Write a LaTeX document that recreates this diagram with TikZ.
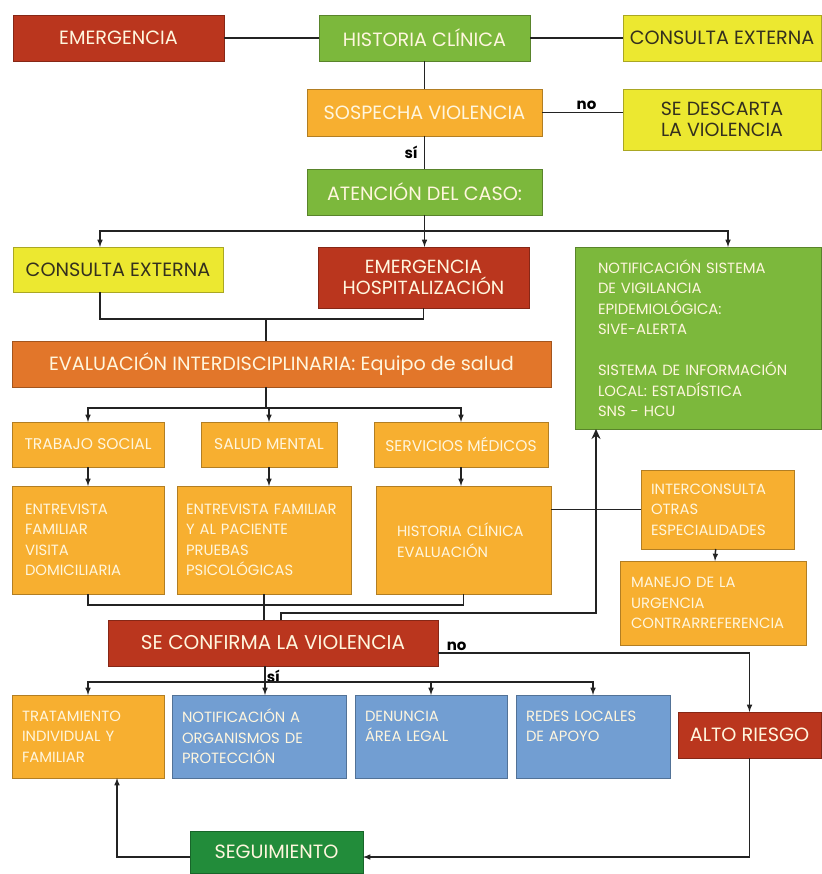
\documentclass[tikz,border=0pt]{standalone}
\usepackage{fontspec}
\setmainfont{Poppins}
\usetikzlibrary{arrows}
\usetikzlibrary{arrows.meta}
\usetikzlibrary{shadows}

\definecolor{rojo}{RGB}{186,54,30}
\definecolor{verde}{RGB}{124,184,60}
\definecolor{verdeosc}{RGB}{34,140,58}
\definecolor{naranja}{RGB}{247,175,48}
\definecolor{naranjaosc}{RGB}{226,118,42}
\definecolor{amarillo}{RGB}{236,232,48}
\definecolor{azul}{RGB}{114,158,210}
\definecolor{claro}{RGB}{255,246,222}
\definecolor{oscuro}{RGB}{52,48,30}
\definecolor{linea}{RGB}{35,35,35}

\newcommand{\fhuge}{\fontsize{20}{24}\selectfont}
\newcommand{\fbig}{\fontsize{19.2}{22}\selectfont}
\newcommand{\fmed}{\fontsize{15.5}{18}\selectfont}
\newcommand{\fsmall}{\fontsize{14.8}{20.5}\selectfont}

\begin{document}
\begin{tikzpicture}[x=1pt,y=-1pt,
	box/.style={draw=#1!72!black,fill=#1,line width=.6pt,anchor=north west,
		outer sep=0pt,inner sep=2pt,
		drop shadow={shadow xshift=1.2pt,shadow yshift=-1.2pt,opacity=.3}},
	sz/.style 2 args={minimum width=#1pt,minimum height=#2pt},
	list/.style 2 args={text width=#1pt,inner xsep=#2pt,align=left,font=\fsmall},
	redbox/.style={box=rojo,text=claro,font=\fbig},
	greenbox/.style={box=verde,text=claro,font=\fbig},
	dgreenbox/.style={box=verdeosc,text=claro,font=\fbig},
	orangebox/.style={box=naranja,text=claro,font=\fbig},
	evalbox/.style={box=naranjaosc,text=claro,font=\fbig},
	yellowbox/.style={box=amarillo,text=oscuro,font=\fbig},
	bluebox/.style={box=azul,text=claro,font=\fbig},
	conn/.style={draw=linea,line width=1.5pt},
	lbl/.style={font=\fontsize{15}{18}\selectfont\bfseries,text=black,inner sep=2pt}
]
	\fill[white] (0,0) rectangle (821,874);
	\useasboundingbox (0,0) rectangle (821,874);

	% first row
	\node[redbox,sz={211}{46}] (emerg) at (13,15) {EMERGENCIA};
	\node[greenbox,sz={211}{46}] (histcli) at (319,15) {HISTORIA CLÍNICA};
	\node[yellowbox,sz={198}{46}] (extern) at (623,15) {CONSULTA EXTERNA};

	\node[orangebox,sz={235}{47}] (sospecha) at (307,89) {SOSPECHA VIOLENCIA};
	\node[yellowbox,sz={198}{61},align=center,font=\fontsize{19}{21}\selectfont] (descarta) at (623,89) {SE DESCARTA\\LA VIOLENCIA};
	\node[greenbox,sz={235}{46}] (atencion) at (307,169) {ATENCIÓN DEL CASO:};

	% attention of the case
	\node[yellowbox,sz={210}{45}] (extern2) at (13,247) {CONSULTA EXTERNA};
	\node[redbox,sz={211}{61},align=center,font=\fontsize{19}{20.5}\selectfont] (hospital) at (318,247) {EMERGENCIA\\HOSPITALIZACIÓN};
	\node[greenbox,sz={246}{182},list={200}{23}] (vigila) at (575,247) {NOTIFICACIÓN SISTEMA\\DE VIGILANCIA\\EPIDEMIOLÓGICA:\\SIVE-ALERTA\\[20.5pt]SISTEMA DE INFORMACIÓN\\LOCAL: ESTADÍSTICA\\SNS - HCU};

	\node[evalbox,sz={539}{46}] (evalua) at (12,341) {EVALUACIÓN INTERDISCIPLINARIA: Equipo de salud};

	\node[orangebox,sz={152}{45},font=\fmed] (social) at (12,422) {TRABAJO SOCIAL};
	\node[orangebox,sz={136}{45},font=\fmed] (mental) at (201,422) {SALUD MENTAL};
	\node[orangebox,sz={174}{45},font=\fmed] (medicos) at (374,422) {SERVICIOS MÉDICOS};

	\node[orangebox,sz={152}{108},list={126}{13}] (visita) at (12,486) {ENTREVISTA\\FAMILIAR\\VISITA\\DOMICILIARIA};
	\node[orangebox,sz={174}{108},list={156}{9}] (pruebas) at (177,486) {ENTREVISTA FAMILIAR\\Y AL PACIENTE\\PRUEBAS\\PSICOLÓGICAS};
	\node[orangebox,sz={175}{108},list={133}{21}] (hcevalua) at (376,486) {HISTORIA CLÍNICA\\EVALUACIÓN};
	\node[orangebox,sz={153}{79},list={133}{10}] (interc) at (641,470) {INTERCONSULTA\\OTRAS\\ESPECIALIDADES};
	\node[orangebox,sz={186}{84},list={164}{11}] (manejo) at (620,561) {MANEJO DE LA\\URGENCIA\\CONTRARREFERENCIA};

	\node[redbox,sz={330}{46},font=\fhuge] (confirma) at (108,620) {SE CONFIRMA LA VIOLENCIA};

	% actions
	\node[orangebox,sz={152}{83},list={132}{10}] (tratam) at (12,695) {TRATAMIENTO\\INDIVIDUAL Y\\FAMILIAR};
	\node[bluebox,sz={174}{83},list={154}{10}] (organismos) at (172,695) {NOTIFICACIÓN A\\ORGANISMOS DE\\PROTECCIÓN};
	\node[bluebox,sz={152}{83},list={132}{10}] (denuncia) at (355,695) {DENUNCIA\\ÁREA LEGAL\\\mbox{}};
	\node[bluebox,sz={154}{83},list={134}{10}] (redes) at (516,695) {REDES LOCALES\\DE APOYO\\\mbox{}};
	\node[redbox,sz={143}{46}] (riesgo) at (678,712) {ALTO RIESGO};
	\node[dgreenbox,sz={173}{42}] (seguim) at (190,831) {SEGUIMIENTO};

	\coordinate (cruce1) at (266,319);
	\coordinate (bus2) at (266,408);
	\coordinate (cruce2) at (264,605);
	\coordinate (cruce3) at (265,682);

	%connectors
	\draw[conn] (emerg) -- (histcli);
	\draw[conn] (histcli) -- (extern);
	\draw[conn] (histcli) -- (sospecha);
	\draw[conn] (sospecha.east) -- node[lbl,above,pos=.55] (no1) {no} (sospecha.east -| descarta.west);
	\draw[conn] (sospecha) -- node[lbl,left,xshift=-4pt] (si1) {sí} (atencion);

	\draw[conn] (atencion.south) -- ++(0,16) coordinate (bus1);
	\draw[conn,-latex] (bus1) -| ([xshift=-18pt]extern2.north);
	\draw[conn,-latex] (bus1) -- (bus1 |- hospital.north);
	\draw[conn,-latex] (bus1) -| ([xshift=30pt]vigila.north);

	\draw[conn] ([xshift=-18pt]extern2.south) |- (cruce1);
	\draw[conn] (hospital.south) |- (cruce1);
	\draw[conn] (cruce1) -- (cruce1 |- evalua.north);

	\draw[conn] (bus2 |- evalua.south) -- (bus2);
	\draw[conn,-latex] (bus2) -| (social.north);
	\draw[conn,-latex] (bus2) -| (mental.north);
	\draw[conn,-latex] (bus2) -| (medicos.north);

	\draw[conn,-latex] (social) -- (visita);
	\draw[conn,-latex] (mental.south) -- (mental.south |- pruebas.north);
	\draw[conn,-latex] (medicos.south) -- (medicos.south |- hcevalua.north);
	\draw[conn] (interc.west) -- (interc.west -| hcevalua.east);
	\draw[conn,-latex] (interc) -- (manejo);

	\draw[conn] (visita.south) |- (cruce2);
	\draw[conn] (hcevalua.south) |- (cruce2);
	\draw[conn] (pruebas.south) -- (pruebas.south |- confirma.north);

	\draw[conn,-{Stealth[length=10pt,width=9pt]}] ([xshift=8pt]confirma.north) -- ++(0,-7) -| ([xshift=21pt]vigila.south west);
	\draw[conn,-latex] ([yshift=-10pt]confirma.east) -| node[lbl,above right,pos=0,xshift=6pt] (no2) {no} (riesgo.north);

	\draw[conn] (cruce3 |- confirma.south) -- node[lbl,right,pos=.65,inner sep=1pt] (si2) {sí} (cruce3);
	\draw[conn,-latex] (cruce3) -| (tratam.north);
	\draw[conn,-latex] (cruce3) -- (cruce3 |- organismos.north);
	\draw[conn,-latex] (cruce3) -| (denuncia.north);
	\draw[conn,-latex] (cruce3) -| (redes.north);

	\draw[conn,-latex] (riesgo.south) |- ([yshift=-5pt]seguim.east);
	\draw[conn,-latex] ([yshift=-5pt]seguim.west) -| ([xshift=29pt]tratam.south);
\end{tikzpicture}
\end{document}
